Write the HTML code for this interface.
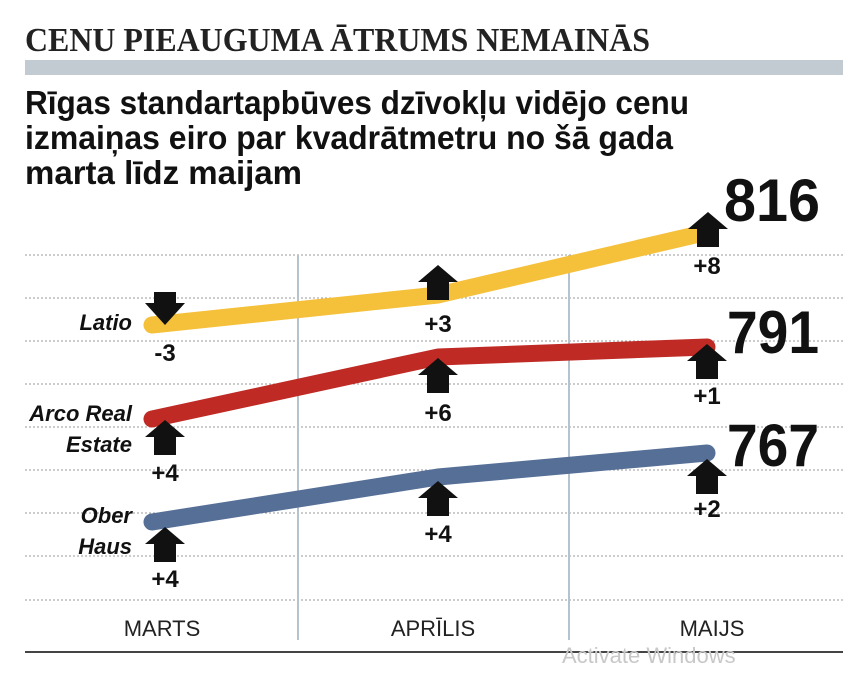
<!DOCTYPE html>
<html><head><meta charset="utf-8"><style>
body{margin:0;background:#fff;}
svg{display:block;}
</style></head><body>
<svg width="848" height="682" viewBox="0 0 848 682" xmlns="http://www.w3.org/2000/svg">
<rect width="848" height="682" fill="#fff"/>
<text x="25" y="51" font-family="Liberation Serif, serif" font-weight="bold" font-size="34" fill="#222" textLength="625" lengthAdjust="spacingAndGlyphs">CENU PIEAUGUMA ĀTRUMS NEMAINĀS</text>
<rect x="25" y="60" width="818" height="15" fill="#c3cbd2"/>
<g font-family="Liberation Sans, sans-serif" font-weight="bold" font-size="33" fill="#111">
<text x="25" y="114" textLength="664" lengthAdjust="spacingAndGlyphs">Rīgas standartapbūves dzīvokļu vidējo cenu</text>
<text x="25" y="149" textLength="648" lengthAdjust="spacingAndGlyphs">izmaiņas eiro par kvadrātmetru no šā gada</text>
<text x="25" y="184" textLength="277" lengthAdjust="spacingAndGlyphs">marta līdz maijam</text>
</g>
<g stroke="#999" stroke-width="1" stroke-dasharray="2,2">
<line x1="25" y1="255" x2="843" y2="255"/><line x1="25" y1="298" x2="843" y2="298"/>
<line x1="25" y1="341" x2="843" y2="341"/><line x1="25" y1="384" x2="843" y2="384"/>
<line x1="25" y1="427" x2="843" y2="427"/><line x1="25" y1="470" x2="843" y2="470"/>
<line x1="25" y1="513" x2="843" y2="513"/><line x1="25" y1="556" x2="843" y2="556"/>
<line x1="25" y1="600" x2="843" y2="600"/>
</g>
<line x1="298" y1="255" x2="298" y2="640" stroke="#b5c3cf" stroke-width="2"/>
<line x1="569" y1="255" x2="569" y2="640" stroke="#b5c3cf" stroke-width="2"/>
<line x1="25" y1="652" x2="843" y2="652" stroke="#444" stroke-width="2"/>
<g fill="none" stroke-width="17" stroke-linecap="round" stroke-linejoin="round">
<polyline points="152,325 438,295 708,232" stroke="#f5c03a"/>
<polyline points="152,419 438,357 707,347" stroke="#bf2a25"/>
<polyline points="152,522 438,477 707,453" stroke="#556f97"/>
</g>
<defs>
<path id="up" d="M0,0 L-20,17 L-11,17 L-11,35 L11,35 L11,17 L20,17 Z" fill="#111"/>
</defs>
<path d="M165,325 L145,303 L154,303 L154,292 L176,292 L176,303 L185,303 Z" fill="#111"/>
<use href="#up" x="438" y="265"/>
<use href="#up" x="708" y="212"/>
<use href="#up" x="165" y="420"/>
<use href="#up" x="438" y="358"/>
<use href="#up" x="707" y="344"/>
<use href="#up" x="165" y="527"/>
<use href="#up" x="438" y="481"/>
<use href="#up" x="707" y="459"/>
<g font-family="Liberation Sans, sans-serif" font-weight="bold" font-size="24" fill="#111" text-anchor="middle">
<text x="165" y="361">-3</text>
<text x="438" y="332">+3</text>
<text x="707" y="274">+8</text>
<text x="165" y="481">+4</text>
<text x="438" y="421">+6</text>
<text x="707" y="404">+1</text>
<text x="165" y="587">+4</text>
<text x="438" y="542">+4</text>
<text x="707" y="517">+2</text>
</g>
<g font-family="Liberation Sans, sans-serif" font-weight="bold" font-style="italic" font-size="22" fill="#111" text-anchor="end">
<text x="132" y="330">Latio</text>
<text x="132" y="421">Arco Real</text>
<text x="132" y="452">Estate</text>
<text x="132" y="523">Ober</text>
<text x="132" y="554">Haus</text>
</g>
<g font-family="Liberation Sans, sans-serif" font-weight="bold" font-size="60" fill="#111">
<text x="724" y="221" textLength="96" lengthAdjust="spacingAndGlyphs">816</text>
<text x="727" y="353" textLength="92" lengthAdjust="spacingAndGlyphs">791</text>
<text x="727" y="466" textLength="92" lengthAdjust="spacingAndGlyphs">767</text>
</g>
<g font-family="Liberation Sans, sans-serif" font-size="22" fill="#222" text-anchor="middle">
<text x="162" y="636">MARTS</text>
<text x="433" y="636">APRĪLIS</text>
<text x="712" y="636">MAIJS</text>
</g>
<text x="562" y="663" font-family="Liberation Sans, sans-serif" font-size="22" fill="#c8c8c8">Activate Windows</text>
</svg>
</body></html>
